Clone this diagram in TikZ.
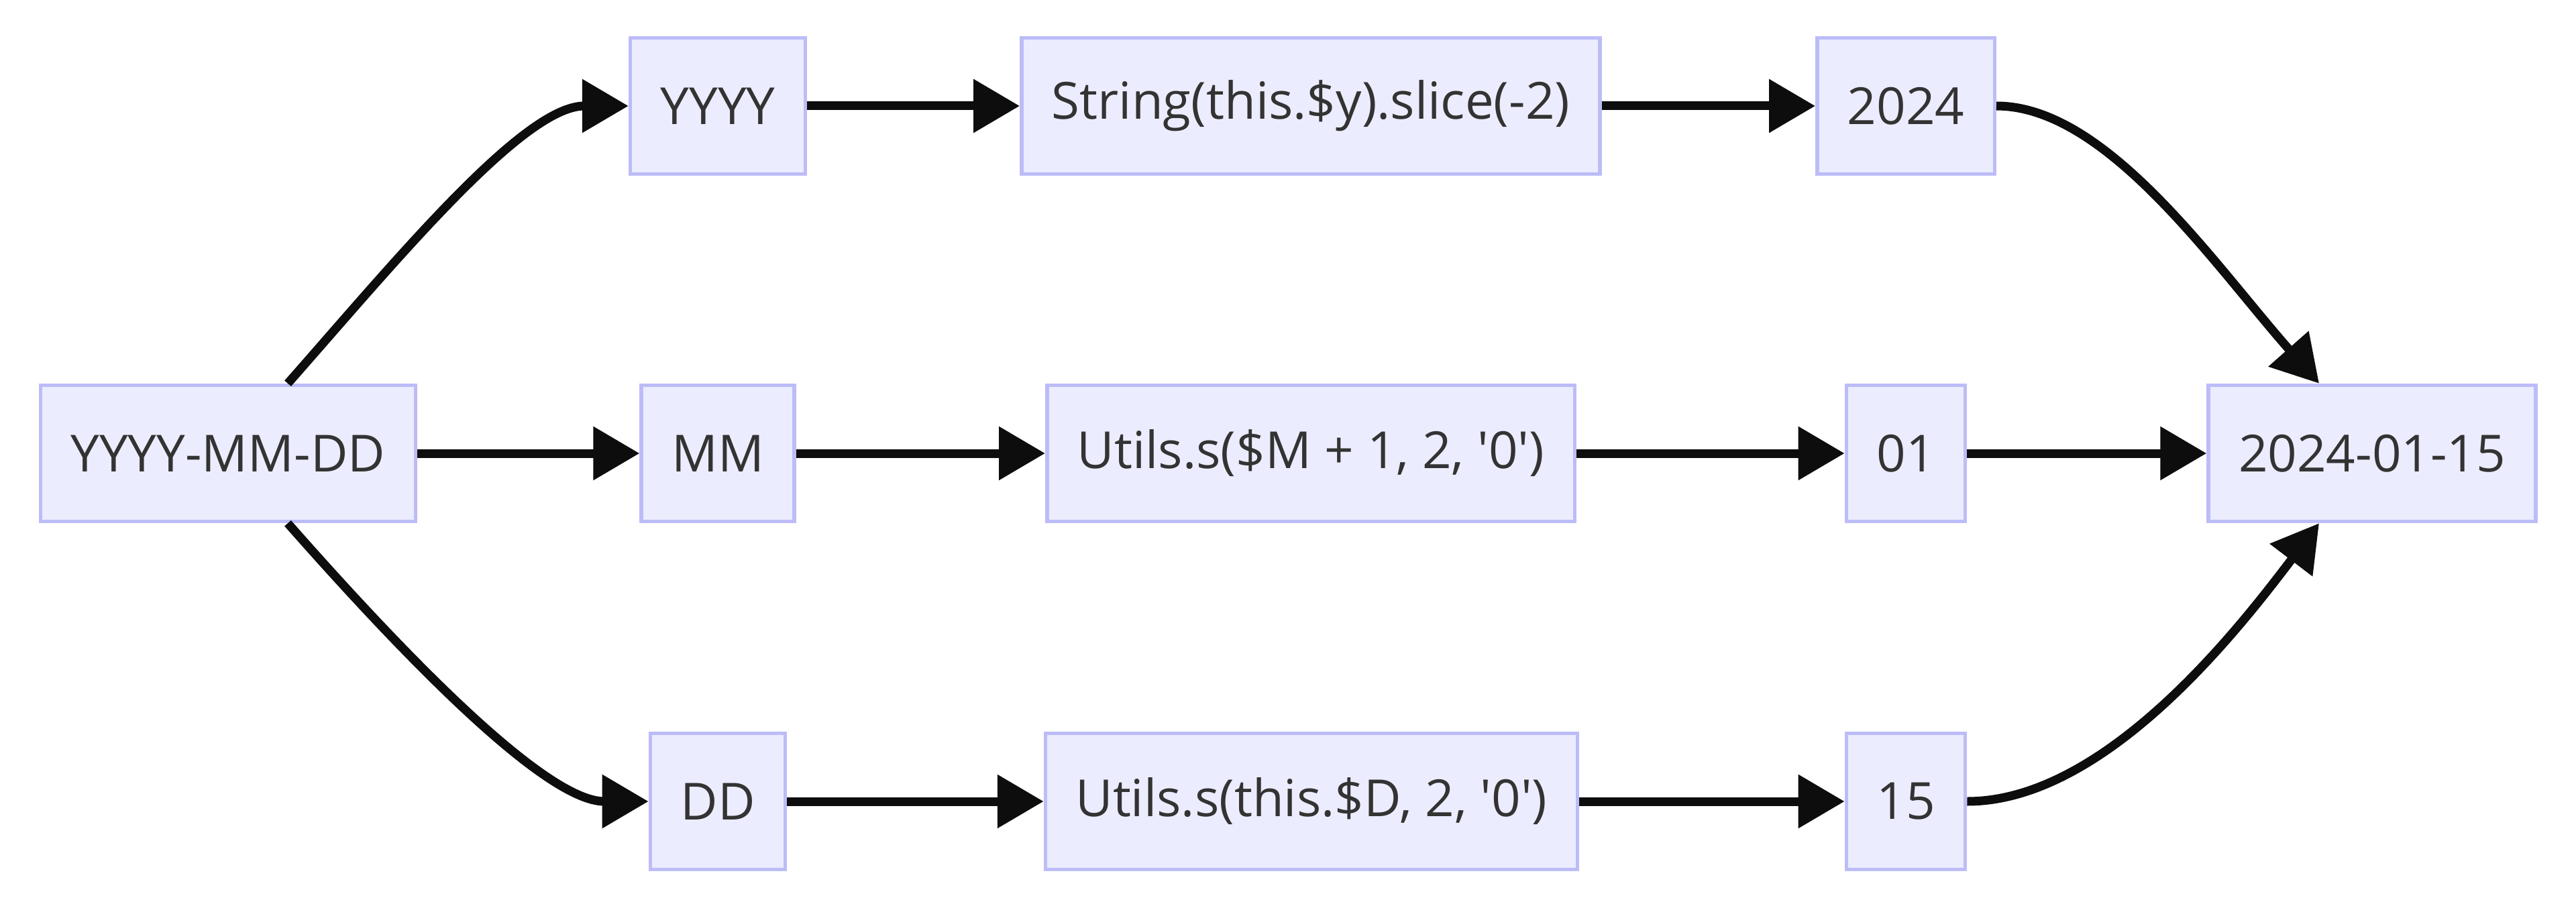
\documentclass[tikz,border=0pt]{standalone}
\usepackage{fontspec}
\setmainfont{Open Sans}[Ligatures=TeXOff]
\usetikzlibrary{arrows.meta}
\definecolor{boxfill}{HTML}{ECECFF}
\definecolor{boxline}{HTML}{BCBCF8}
\definecolor{linecol}{HTML}{0D0D0D}
\definecolor{txtcol}{HTML}{333333}

\begin{document}
\begin{tikzpicture}[
    box/.style={draw=boxline, fill=boxfill, line width=0.55mm, minimum height=2.03cm,
                inner xsep=0.45cm, text=txtcol, font=\fontsize{21.7}{26}\selectfont},
    arr/.style={-{Triangle[length=0.69cm, width=0.77cm]}, line width=1.3mm, draw=linecol}
]
\useasboundingbox (0,0) rectangle (38.4,13.44);

% input
\node[box] (src) at (3.40, 6.68) {YYYY-MM-DD};

% tokens
\node[box] (yyyy) at (10.70, 11.86) {YYYY};
\node[box] (mm) at (10.70, 6.68) {MM};
\node[box] (dd) at (10.70, 1.49) {DD};

% formatters
\node[box] (yfmt) at (19.54, 11.86) {String(this.\$y).slice(-2)};
\node[box] (mfmt) at (19.54, 6.68) {Utils.s(\$M + 1, 2, '0')};
\node[box] (dfmt) at (19.55, 1.49) {Utils.s(this.\$D, 2, '0')};

% values
\node[box] (yval) at (28.41, 11.86) {2024};
\node[box] (mval) at (28.41, 6.68) {01};
\node[box] (dval) at (28.41, 1.49) {15};

% output
\node[box] (result) at (35.36, 6.68) {2024-01-15};

% split
\draw[arr] (src.north -| 4.29,0) .. controls (5.9,9.55) and (7.8,11.86) .. (yyyy.west);
\draw[arr] (src) -- (mm);
\draw[arr] (src.south -| 4.29,0) .. controls (5.9,3.81) and (8.1,1.49) .. (dd.west);

% rows
\draw[arr] (yyyy) -- (yfmt);
\draw[arr] (yfmt) -- (yval);
\draw[arr] (mm) -- (mfmt);
\draw[arr] (mfmt) -- (mval);
\draw[arr] (dd) -- (dfmt);
\draw[arr] (dfmt) -- (dval);

% join
\draw[arr] (yval.east) .. controls (31.4,11.86) and (33.0,9.5) .. (result.north -| 34.57,0);
\draw[arr] (mval) -- (result);
\draw[arr] (dval.east) .. controls (31.4,1.49) and (33.4,4.1) .. (result.south -| 34.57,0);

\end{tikzpicture}
\end{document}
